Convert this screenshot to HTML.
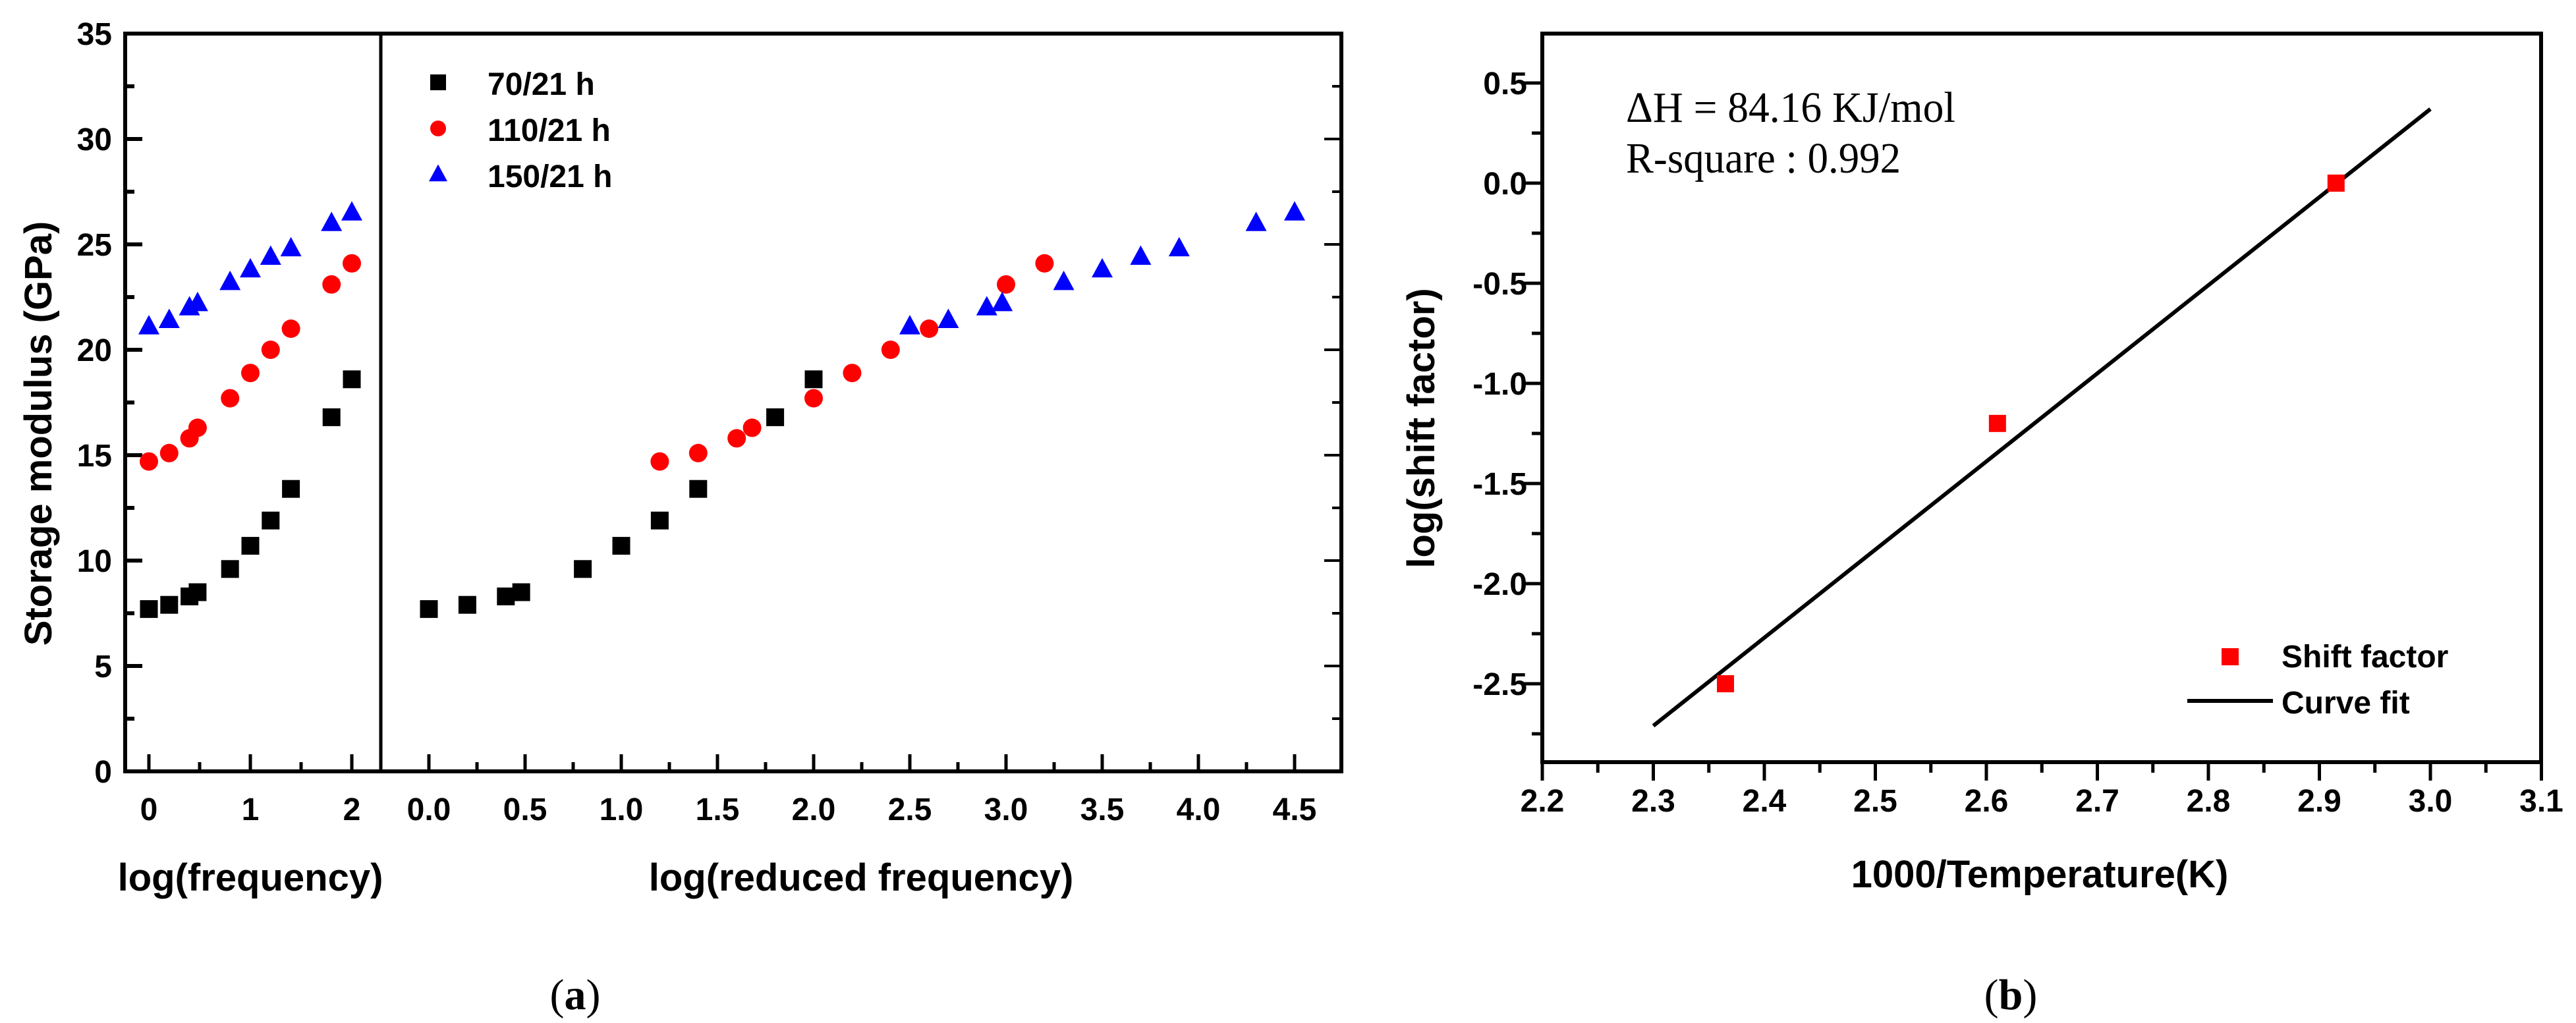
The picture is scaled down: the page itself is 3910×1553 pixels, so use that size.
<!DOCTYPE html>
<html><head><meta charset="utf-8"><style>
html,body{margin:0;padding:0;background:#fff}
svg{display:block}
.tk{font-family:"Liberation Sans Narrow","Liberation Sans",sans-serif;font-weight:bold;font-size:48px}
.ttl{font-family:"Liberation Sans",sans-serif;font-weight:bold;font-size:58px}
.ser{font-family:"Liberation Serif",serif;font-size:66px}
</style></head><body>
<svg id="fig" width="3910" height="1553" viewBox="0 0 3910 1553" xmlns="http://www.w3.org/2000/svg">
<g id="pa"></g>
<g id="pb"></g>
</svg>
<script>
// ---- Panel (a) data ----
const freqX = [0, 0.2, 0.4, 0.48, 0.8, 1.0, 1.2, 1.4, 1.8, 2.0];
const mod70 = [7.7, 7.9, 8.3, 8.5, 9.6, 10.7, 11.9, 13.4, 16.8, 18.6];
const mod110 = [14.7, 15.1, 15.8, 16.3, 17.7, 18.9, 20.0, 21.0, 23.1, 24.1];
const mod150 = [21.1, 21.4, 22.0, 22.2, 23.2, 23.8, 24.4, 24.8, 26.0, 26.5];
const red70X = [0, 0.2, 0.4, 0.48, 0.8, 1.0, 1.2, 1.4, 1.8, 2.0];
const red110X = [1.2, 1.4, 1.6, 1.68, 2.0, 2.2, 2.4, 2.6, 3.0, 3.2];
const red150X = [2.5, 2.7, 2.9, 2.98, 3.3, 3.5, 3.7, 3.9, 4.3, 4.5];
const yTicksA = [0, 5, 10, 15, 20, 25, 30, 35];
const xTicksA1 = [0, 1, 2];
const xTicksA2 = ["0.0","0.5","1.0","1.5","2.0","2.5","3.0","3.5","4.0","4.5"];
const seriesNames = ["70/21 h", "110/21 h", "150/21 h"];
// ---- Panel (b) data ----
const invT = [2.365, 2.61, 2.915];
const logShift = [-2.5, -1.2, 0.0];
const fitX = [2.3, 3.0];
const fitY = [-2.71, 0.37];
const xTicksB = ["2.2","2.3","2.4","2.5","2.6","2.7","2.8","2.9","3.0","3.1"];
const yTicksB = ["0.5","0.0","-0.5","-1.0","-1.5","-2.0","-2.5"];

const NS = "http://www.w3.org/2000/svg";
function mk(parent, tag, at, txt){
  const e = document.createElementNS(NS, tag);
  for (const k in at) e.setAttribute(k, at[k]);
  if (txt !== undefined) e.textContent = txt;
  parent.appendChild(e);
  return e;
}
const pa = document.getElementById('pa');
const pb = document.getElementById('pb');

const yA = v => 1171 - 32 * v;
const xA1 = v => 226 + 154 * v;
const xA2 = v => 651 + 292 * v;

let fr = mk(pa, 'rect', {x:190, y:51, width:1846, height:1120, fill:'none', stroke:'#000', 'stroke-width':6});


let dv = mk(pa, 'line', {x1:578, y1:51, x2:578, y2:1171, stroke:'#000', 'stroke-width':5});



for (let v = 0; v <= 35; v += 2.5) {
  const major = (v % 5 === 0);
  const len = major ? 26 : 14;
  let t = mk(pa, 'line', {x1:190, y1:yA(v), x2:190 + len, y2:yA(v), stroke:'#000', 'stroke-width':6});
  
  
  let t2 = mk(pa, 'line', {x1:2036, y1:yA(v), x2:2036 - len, y2:yA(v), stroke:'#000', 'stroke-width':4});
  
  
}
yTicksA.forEach(v => {
  let l = mk(pa, 'text', {x:170, y:yA(v) + 17, 'text-anchor':'end', class:'tk', 'font-weight':'normal'}, String(v));
  
  
});
for (let v = 0; v <= 2; v += 0.5) {
  const major = Number.isInteger(v);
  let t = mk(pa, 'line', {x1:xA1(v), y1:1171, x2:xA1(v), y2:1171 - (major ? 26 : 14), stroke:'#000', 'stroke-width':5});
  
  
}
xTicksA1.forEach(v => {
  let l = mk(pa, 'text', {x:xA1(v), y:1245, 'text-anchor':'middle', class:'tk'}, String(v));
  
  
});
for (let v = 0; v <= 4.5001; v += 0.25) {
  const major = Math.abs(v * 2 - Math.round(v * 2)) < 1e-6;
  let t = mk(pa, 'line', {x1:xA2(v), y1:1171, x2:xA2(v), y2:1171 - (major ? 26 : 14), stroke:'#000', 'stroke-width':5});
  
  
}
xTicksA2.forEach(s => {
  let l = mk(pa, 'text', {x:xA2(parseFloat(s)), y:1245, 'text-anchor':'middle', class:'tk'}, s);
  
  
});
let yt = mk(pa, 'text', {x:0, y:0, 'text-anchor':'middle', class:'ttl', 'font-size':'62', transform:'translate(78,658) rotate(-90)'}, 'Storage modulus (GPa)');


let xt1 = mk(pa, 'text', {x:380, y:1352, 'text-anchor':'middle', class:'ttl'}, 'log(frequency)');


let xt2 = mk(pa, 'text', {x:1307, y:1352, 'text-anchor':'middle', class:'ttl'}, 'log(reduced frequency)');


let cap = mk(pa, 'text', {x:873, y:1532, 'text-anchor':'middle', class:'ser'}, '');


mk(cap, 'tspan', {}, '(');
mk(cap, 'tspan', {'font-weight':'bold'}, 'a');
mk(cap, 'tspan', {}, ')');

function square(g, cx, cy, s, col, name){
  const e = mk(g, 'rect', {x:cx - s/2, y:cy - s/2, width:s, height:s, fill:col});
  
  
}
function circle(g, cx, cy, r, col, name){
  const e = mk(g, 'circle', {cx:cx, cy:cy, r:r, fill:col});
  
  
}
function tri(g, cx, cy, s, col, name){
  const h = s * 0.92;
  const e = mk(g, 'polygon', {points:`${cx},${cy - h*0.6} ${cx - s/2},${cy + h*0.4} ${cx + s/2},${cy + h*0.4}`, fill:col});
  
  
}
freqX.forEach((x, i) => {
  square(pa, xA1(x), yA(mod70[i]), 27, '#000', 'point-70-frequency');
  circle(pa, xA1(x), yA(mod110[i]), 14, '#f00', 'point-110-frequency');
  tri(pa, xA1(x), yA(mod150[i]), 32, '#00f', 'point-150-frequency');
});
red70X.forEach((x, i) => square(pa, xA2(x), yA(mod70[i]), 27, '#000', 'point-70-reduced'));
red110X.forEach((x, i) => circle(pa, xA2(x), yA(mod110[i]), 14, '#f00', 'point-110-reduced'));
red150X.forEach((x, i) => tri(pa, xA2(x), yA(mod150[i]), 32, '#00f', 'point-150-reduced'));

const legY = [125, 195, 265];
square(pa, 665, legY[0], 24, '#000', 'legend-marker-70');
circle(pa, 665, legY[1], 12, '#f00', 'legend-marker-110');
tri(pa, 665, legY[2], 28, '#00f', 'legend-marker-150');
seriesNames.forEach((s, i) => {
  let l = mk(pa, 'text', {x:740, y:legY[i] + 19, class:'tk', 'font-size':'54'}, s);
  
  
});

// ---- panel b ----
const xB = v => 2341 + (v - 2.2) * 1685;
const yB = v => 278 - 304 * v;
let frb = mk(pb, 'rect', {x:2341, y:51, width:1516, height:1106, fill:'none', stroke:'#000', 'stroke-width':6});


for (let i = 0; i <= 18; i++) {
  const v = 2.2 + i * 0.05;
  const major = i % 2 === 0;
  let t = mk(pb, 'line', {x1:xB(v), y1:1157, x2:xB(v), y2:1157 + (major ? 28 : 16), stroke:'#000', 'stroke-width':5});
  
  
}
xTicksB.forEach(s => {
  let l = mk(pb, 'text', {x:xB(parseFloat(s)), y:1232, 'text-anchor':'middle', class:'tk'}, s);
  
  
});
for (let i = 0; i <= 13; i++) {
  const v = 0.5 - i * 0.25;
  const major = i % 2 === 0;
  let t = mk(pb, 'line', {x1:2341, y1:yB(v), x2:2341 - (major ? 28 : 16), y2:yB(v), stroke:'#000', 'stroke-width':5});
  
  
}
yTicksB.forEach(s => {
  let l = mk(pb, 'text', {x:2318, y:yB(parseFloat(s)) + 17, 'text-anchor':'end', class:'tk'}, s);
  
  
});
let fit = mk(pb, 'line', {x1:xB(fitX[0]), y1:yB(fitY[0]), x2:xB(fitX[1]), y2:yB(fitY[1]), stroke:'#000', 'stroke-width':6});


invT.forEach((x, i) => square(pb, xB(x), yB(logShift[i]), 26, '#f00', 'shift-factor-point'));
let ybt = mk(pb, 'text', {x:0, y:0, 'text-anchor':'middle', class:'ttl', 'font-size':'62', transform:'translate(2177,650) rotate(-90)'}, 'log(shift factor)');


let xbt = mk(pb, 'text', {x:3096, y:1347, 'text-anchor':'middle', class:'ttl'}, '1000/Temperature(K)');


let a1 = mk(pb, 'text', {x:2468, y:185, class:'ser', textLength:500, lengthAdjust:'spacingAndGlyphs'}, 'ΔH = 84.16 KJ/mol');


let a2 = mk(pb, 'text', {x:2468, y:262, class:'ser', textLength:417, lengthAdjust:'spacingAndGlyphs'}, 'R-square : 0.992');


square(pb, 3385, 997, 26, '#f00', 'legend-marker-shift-factor');
let lt1 = mk(pb, 'text', {x:3463, y:1013, class:'tk', 'font-size':'52'}, 'Shift factor');


let ll = mk(pb, 'line', {x1:3320, y1:1064, x2:3450, y2:1064, stroke:'#000', 'stroke-width':6});


let lt2 = mk(pb, 'text', {x:3463, y:1083, class:'tk', 'font-size':'52'}, 'Curve fit');


let capb = mk(pb, 'text', {x:3052, y:1532, 'text-anchor':'middle', class:'ser'}, '');


mk(capb, 'tspan', {}, '(');
mk(capb, 'tspan', {'font-weight':'bold'}, 'b');
mk(capb, 'tspan', {}, ')');
</script>
</body></html>
